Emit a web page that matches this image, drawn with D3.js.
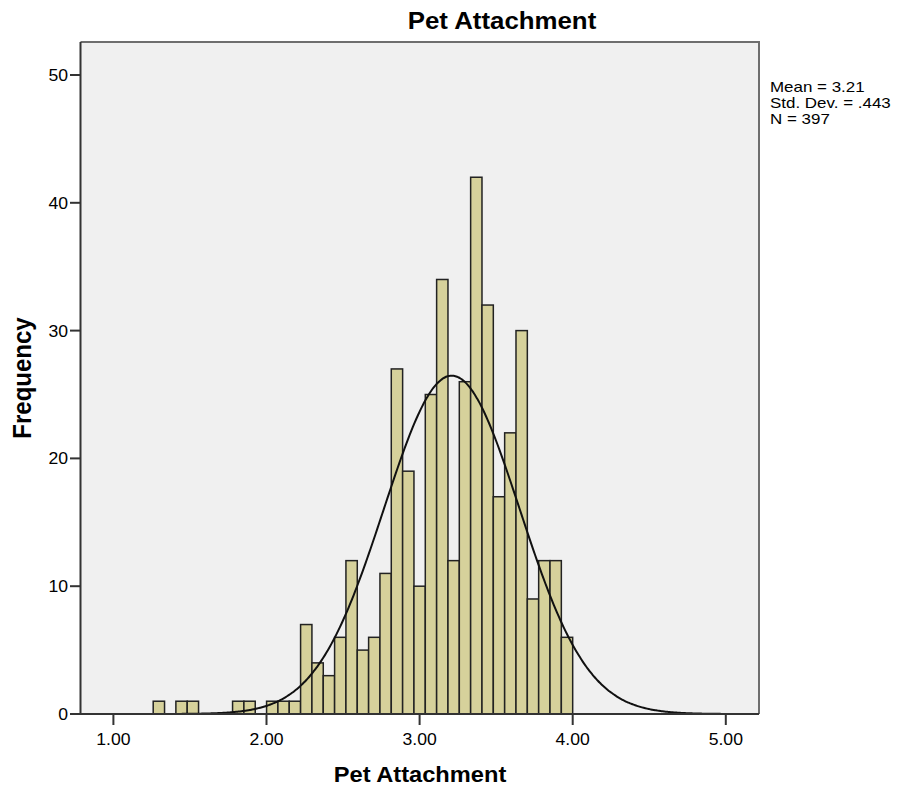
<html>
<head>
    <meta charset="utf-8">
    <script src="https://d3js.org/d3.v7.min.js"></script>
    <style>
      body { margin: 0; background: #fff; }
      text { font-family: Arial, "Liberation Sans", sans-serif; fill: #000; }
    </style>
</head>
<body>
    <div id="my_dataviz"></div>

<script>
    // histogram data
    const binLow = 1.26;
    const binWidth = 0.07405;
    const counts = [1,0,1,1,0,0,0,1,1,0,
                    1,1,1,7,4,3,6,12,5,6,
                    11,27,19,10,25,34,12,26,42,32,
                    17,22,30,9,12,12,6];
    const xTicks = [1, 2, 3, 4, 5];
    const yTicks = [0, 10, 20, 30, 40, 50];
    const statMean = 3.21, statSd = 0.443, statN = 397;
    const legendLines = ["Mean = 3.21", "Std. Dev. = .443", "N = 397"];

    const W = 902, H = 790;
    // plot frame
    const frame = {left: 80.5, right: 759, top: 42, bottom: 714};
    const sx = 1.1; // text is a bit wide in the reference

    const svg = d3.select("#my_dataviz")
      .append("svg")
        .attr("width", W)
        .attr("height", H);

    const x = d3.scaleLinear().domain([1, 5]).range([113.4, 725.8]);
    const y = d3.scaleLinear().domain([0, 50]).range([714, 75]);

    // background
    svg.append("rect")
      .attr("x", frame.left).attr("y", frame.top)
      .attr("width", frame.right - frame.left)
      .attr("height", frame.bottom - frame.top)
      .style("fill", "#f0f0f0");

    svg.append("clipPath").attr("id", "clip")
      .append("rect")
      .attr("x", frame.left).attr("y", frame.top)
      .attr("width", frame.right - frame.left)
      .attr("height", frame.bottom - frame.top);

    const bins = counts.map((c, i) => ({x0: binLow + i * binWidth, x1: binLow + (i + 1) * binWidth, n: c}))
      .filter(d => d.n > 0);

    svg.append("g").selectAll("rect")
      .data(bins)
      .join("rect")
        .attr("x", d => x(d.x0))
        .attr("y", d => y(d.n))
        .attr("width", d => x(d.x1) - x(d.x0))
        .attr("height", d => y(0) - y(d.n))
        .style("fill", "#d6d19b")
        .style("stroke", "#222")
        .style("stroke-width", 1.5);

    // normal curve
    const x0 = x.invert(frame.left), x1 = x.invert(frame.right);
    const pts = d3.range(0, 401).map(i => {
      const v = x0 + (x1 - x0) * i / 400;
      const z = (v - statMean) / statSd;
      return [v, statN * binWidth * Math.exp(-0.5 * z * z) / (statSd * Math.sqrt(2 * Math.PI))];
    });
    svg.append("path")
      .datum(pts)
      .attr("clip-path", "url(#clip)")
      .attr("d", d3.line().x(d => x(d[0])).y(d => y(d[1])).curve(d3.curveBasis))
      .style("fill", "none")
      .style("stroke", "#111")
      .style("stroke-width", 2);

    // frame top / right
    svg.append("path")
      .attr("d", `M${frame.left},${frame.top}H${frame.right}V${frame.bottom}`)
      .style("fill", "none")
      .style("stroke", "#6e6e6e")
      .style("stroke-width", 2);

    // y axis
    const yAxis = svg.append("g");
    yAxis.append("line")
      .attr("x1", frame.left).attr("x2", frame.left)
      .attr("y1", frame.top).attr("y2", frame.bottom)
      .style("stroke", "#333").style("stroke-width", 2);
    yAxis.selectAll(".tk").data(yTicks).join("line")
      .attr("x1", 70).attr("x2", frame.left)
      .attr("y1", d => y(d)).attr("y2", d => y(d))
      .style("stroke", "#333").style("stroke-width", 2);
    yAxis.selectAll("text").data(yTicks).join("text")
      .attr("transform", d => `translate(68,${y(d) + 6}) scale(${sx},1)`)
      .attr("text-anchor", "end")
      .style("font-size", "16px")
      .text(d => d);

    // x axis
    const xAxis = svg.append("g");
    xAxis.append("line")
      .attr("x1", 70).attr("x2", frame.right)
      .attr("y1", frame.bottom).attr("y2", frame.bottom)
      .style("stroke", "#333").style("stroke-width", 2);
    xAxis.selectAll(".tk").data(xTicks).join("line")
      .attr("x1", d => x(d)).attr("x2", d => x(d))
      .attr("y1", frame.bottom).attr("y2", frame.bottom + 11)
      .style("stroke", "#333").style("stroke-width", 2);
    xAxis.selectAll("text").data(xTicks).join("text")
      .attr("transform", d => `translate(${x(d)},745) scale(${sx},1)`)
      .attr("text-anchor", "middle")
      .style("font-size", "16px")
      .text(d => d3.format(".2f")(d));

    // titles
    svg.append("text")
      .attr("transform", `translate(502,29) scale(${sx},1)`)
      .attr("text-anchor", "middle")
      .style("font-size", "23.5px").style("font-weight", "bold")
      .text("Pet Attachment");

    svg.append("text")
      .attr("transform", `translate(420,782) scale(${sx},1)`)
      .attr("text-anchor", "middle")
      .style("font-size", "21.5px").style("font-weight", "bold")
      .text("Pet Attachment");

    svg.append("text")
      .attr("transform", `translate(31,378) rotate(-90) scale(1,${sx})`)
      .attr("text-anchor", "middle")
      .style("font-size", "24px").style("font-weight", "bold")
      .text("Frequency");

    // legend
    svg.append("g").selectAll("text")
      .data(legendLines)
      .join("text")
        .attr("transform", (d, i) => `translate(770,${92 + i * 16}) scale(1.13,1)`)
        .style("font-size", "15px")
        .text(d => d);
</script>
</body>
</html>
